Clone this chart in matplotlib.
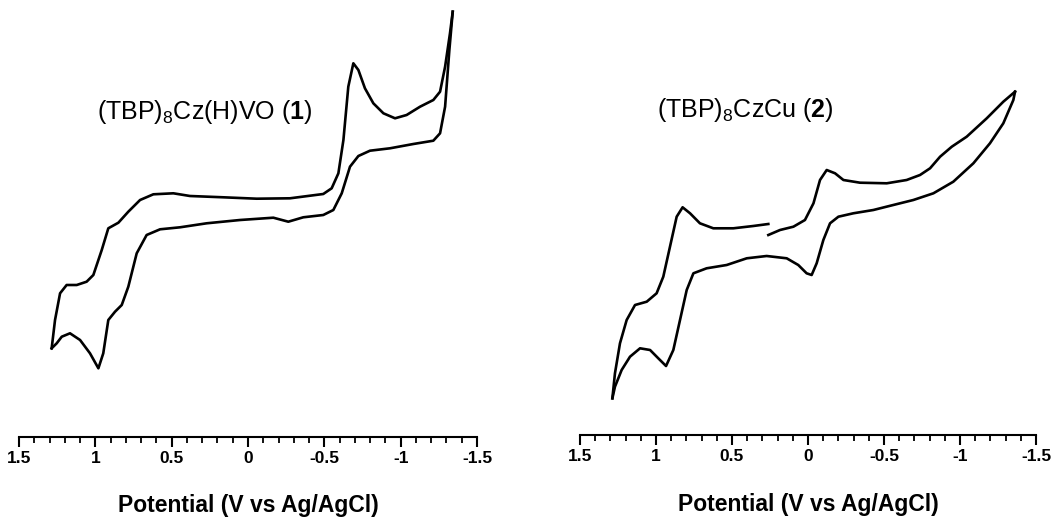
import matplotlib
matplotlib.use('agg')
import matplotlib.pyplot as plt
from matplotlib.ticker import MultipleLocator

plt.rcParams['font.family'] = ['Liberation Sans', 'DejaVu Sans']
plt.rcParams['mathtext.fontset'] = 'custom'
plt.rcParams['mathtext.rm'] = 'Liberation Sans'
plt.rcParams['mathtext.bf'] = 'Liberation Sans:bold'

# CV del compuesto 1 (corriente en unidades arbitrarias)
v1_sup = [1.286, 1.264, 1.231, 1.188, 1.122, 1.057, 1.013, 0.958, 0.915, 0.849, 0.784, 0.707,
          0.620, 0.489, 0.380, 0.162, -0.057, -0.275, -0.493, -0.548, -0.592, -0.625, -0.657,
          -0.690, -0.723, -0.766, -0.821, -0.887, -0.963, -1.039, -1.127, -1.214, -1.258,
          -1.291, -1.323, -1.341]
i1_sup = [8.87, 11.7, 14.37, 15.2, 15.2, 15.53, 16.2, 18.7, 20.87, 21.43, 22.53, 23.7,
          24.27, 24.37, 24.1, 23.97, 23.83, 23.87, 24.3, 24.87, 26.37, 29.7, 35.03,
          37.37, 36.7, 34.87, 33.37, 32.37, 31.87, 32.2, 33.03, 33.7, 34.53,
          37.03, 40.37, 42.53]
v1_inf = [1.286, 1.253, 1.220, 1.166, 1.100, 1.035, 0.980, 0.948, 0.915, 0.871, 0.827, 0.784,
          0.729, 0.664, 0.576, 0.445, 0.271, 0.052, -0.166, -0.264, -0.362, -0.493, -0.559,
          -0.614, -0.668, -0.723, -0.799, -0.930, -1.083, -1.214, -1.258, -1.291, -1.319, -1.341]
i1_inf = [8.87, 9.37, 10.03, 10.37, 9.7, 8.37, 6.87, 8.37, 11.7, 12.53, 13.2, 15.03,
          18.37, 20.2, 20.77, 20.97, 21.37, 21.7, 21.93, 21.53, 21.97, 22.2, 22.7,
          24.37, 27.03, 28.1, 28.63, 28.87, 29.3, 29.63, 30.37, 33.03, 38.7, 42.53]

# CV del compuesto 2 (el barrido empieza cerca de 0.26 V, por eso el hueco)
v2_sup_a = [1.287, 1.270, 1.237, 1.193, 1.138, 1.061, 0.996, 0.952, 0.908, 0.864, 0.825,
            0.776, 0.711, 0.623, 0.491, 0.360, 0.261]
i2_sup_a = [3.67, 6.17, 9.17, 11.5, 13.0, 13.33, 14.17, 15.83, 18.83, 21.83, 22.77,
            22.17, 21.17, 20.67, 20.67, 20.9, 21.1]
v2_sup_b = [0.261, 0.184, 0.096, 0.020, -0.036, -0.079, -0.123, -0.178, -0.233, -0.342,
            -0.518, -0.649, -0.737, -0.803, -0.869, -0.946, -1.044, -1.176, -1.285, -1.362]
i2_sup_b = [20.0, 20.5, 20.83, 21.5, 23.17, 25.5, 26.5, 26.17, 25.5, 25.23,
            25.17, 25.5, 26.0, 26.67, 27.83, 28.83, 29.83, 31.67, 33.33, 34.33]
v2_inf = [-1.362, -1.351, -1.285, -1.197, -1.088, -0.956, -0.825, -0.693, -0.561, -0.430,
          -0.298, -0.200, -0.145, -0.101, -0.057, -0.024, 0.009, 0.064, 0.140, 0.272,
          0.403, 0.535, 0.667, 0.754, 0.798, 0.842, 0.886, 0.934, 0.985, 1.039, 1.105,
          1.171, 1.226, 1.270, 1.287]
i2_inf = [34.33, 33.5, 31.17, 29.17, 27.17, 25.33, 24.17, 23.5, 23.0, 22.5,
          22.17, 21.83, 21.17, 19.5, 17.17, 16.0, 16.17, 17.0, 17.67, 17.9,
          17.67, 17.0, 16.67, 16.17, 14.5, 11.5, 8.5, 6.9, 7.67, 8.5, 8.67,
          7.83, 6.5, 4.83, 3.67]

etiquetas = [r'(TBP)$_8$Cz(H)VO ($\mathbf{1}$)', r'(TBP)$_8$CzCu ($\mathbf{2}$)']

fig = plt.figure(figsize=(10.63, 5.17), dpi=100)
ax1 = fig.add_axes([19 / 1063, 80 / 517, 458 / 1063, 437 / 517])
ax2 = fig.add_axes([580 / 1063, 82 / 517, 456 / 1063, 435 / 517])

curvas = [
    (ax1, [(v1_sup, i1_sup), (v1_inf, i1_inf)], 43.7, 20),
    (ax2, [(v2_sup_a, i2_sup_a), (v2_sup_b, i2_sup_b), (v2_inf, i2_inf)], 43.5, 21),
]

for ax, trazos, ymax, pad in curvas:
    for v, i in trazos:
        ax.plot(v, i, color='black', lw=1.9, clip_on=False)
    ax.set_xlim(1.5, -1.5)
    ax.set_ylim(0, ymax)
    for lado in ['top', 'right', 'left']:
        ax.spines[lado].set_visible(False)
    ax.spines['bottom'].set_linewidth(1.5)
    ax.set_yticks([])
    ax.xaxis.set_major_locator(MultipleLocator(0.5))
    ax.xaxis.set_minor_locator(MultipleLocator(0.1))
    ax.tick_params(axis='x', which='major', length=7, width=1.5, direction='out', pad=3,
                   labelsize=12.5)
    ax.tick_params(axis='x', which='minor', length=4, width=1.3, direction='out')
    ax.set_xticks([1.5, 1, 0.5, 0, -0.5, -1, -1.5])
    ax.set_xticklabels(['1.5', '1', '0.5', '0', '-0.5', '-1', '-1.5'], fontweight='bold')
    ax.set_xlabel('Potential (V vs Ag/AgCl)', fontsize=16.5, fontweight='bold', labelpad=pad)
    ax.patch.set_alpha(0)

# posiciones del texto en pixeles desde arriba
fig.text(97 / 1063, 1 - 112 / 517, etiquetas[0], fontsize=18, va='center')
fig.text(657 / 1063, 1 - 110 / 517, etiquetas[1], fontsize=18, va='center')

fig.savefig('out.png', dpi=100)
